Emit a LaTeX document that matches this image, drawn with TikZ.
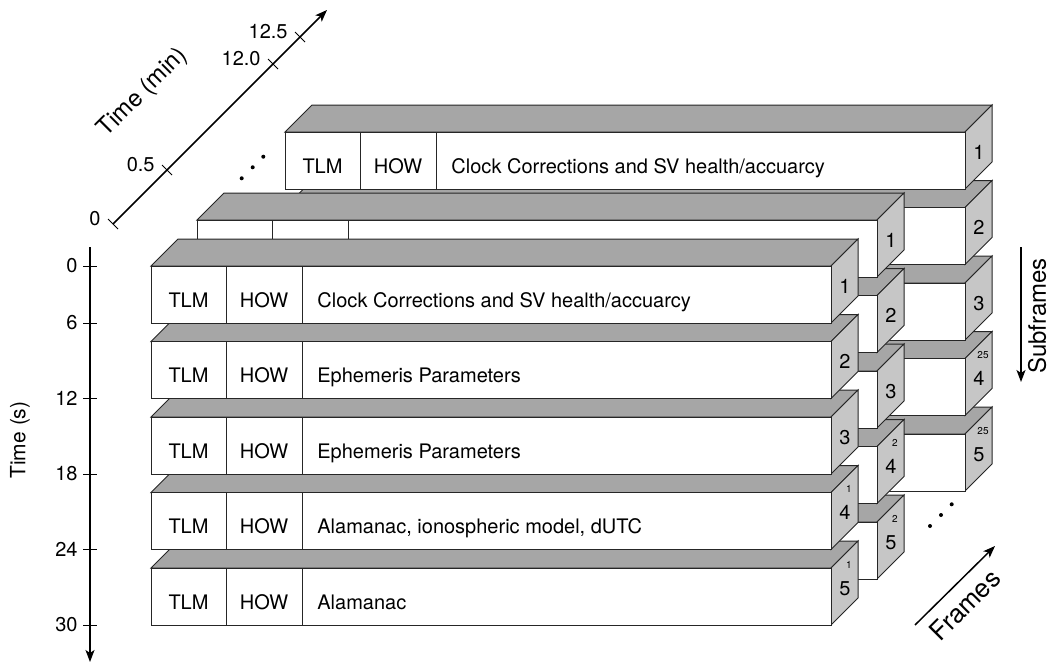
\documentclass[tikz,border=0pt]{standalone}
\usepackage{fontspec}
\setmainfont{TeX Gyre Heros}
\usetikzlibrary{arrows.meta}

\definecolor{topgrey}{RGB}{166,166,166}
\definecolor{sidegrey}{RGB}{198,198,198}

% block sizes, in picture units
\def\blkw{680}  % front face width
\def\blkh{57}   % front face height
\def\blkd{27}   % oblique depth

% \subframeblock{x}{y}{frame}{subframe} -- (x,y) = top-left of the front face
\newcommand{\subframeblock}[4]{%
  \filldraw[topface]   (#1,#2) -- ++(\blkd,-\blkd) -- ++(\blkw,0) -- ++(-\blkd,\blkd) -- cycle;
  \filldraw[sideface]  (#1+\blkw,#2) -- ++(\blkd,-\blkd) -- ++(0,\blkh) -- ++(-\blkd,\blkd) -- cycle;
  \filldraw[frontface] (#1,#2) rectangle ++(\blkw,\blkh);
  \draw[divider] (#1+75,#2) -- ++(0,\blkh) (#1+151,#2) -- ++(0,\blkh);
  \node[sfnum] (n#3-#4) at (#1+\blkw+14,#2+27) {#4};
}

% \fieldrow{name}{x}{y}{description}
\newcommand{\fieldrow}[4]{%
  \node[field] (#1-tlm) at (#2+37.5,#3+41) {TLM};
  \node[field] (#1-how) at (#2+113,#3+41) {HOW};
  \node[field, anchor=base west] (#1-txt) at (#2+166,#3+41) {#4};
}

\begin{document}
\begin{tikzpicture}[
  x=0.5pt, y=-0.5pt,
  topface/.style={fill=topgrey, draw=black!85, line width=0.5pt},
  sideface/.style={fill=sidegrey, draw=black!85, line width=0.5pt},
  frontface/.style={fill=white, draw=black!85, line width=0.5pt},
  divider/.style={draw=black!85, line width=0.5pt},
  field/.style={font=\fontsize{10}{12}\selectfont, inner sep=0pt, anchor=base},
  sfnum/.style={font=\fontsize{10}{12}\selectfont, inner sep=0pt, anchor=base},
  pgnum/.style={font=\fontsize{5}{6}\selectfont, inner sep=0pt, anchor=base},
  ticklbl/.style={font=\fontsize{10}{12}\selectfont, inner sep=0pt, anchor=east},
  axtitle/.style={font=\fontsize{#1}{14}\selectfont, inner sep=0pt},
  axis/.style={line width=0.75pt, -{Stealth[length=6pt,width=4.5pt,inset=1.5pt]}},
  tick/.style={line width=0.5pt},
]
\useasboundingbox (0,0) rectangle (1049,664);

%% ── Frames, back to front; subframes bottom to top ────────────────────────
\foreach \fx/\fy/\fr/\pg in {285/132/2/25, 197/220/1/2, 151/266/0/1}{
  \foreach \s in {5,4,...,1}{
    \pgfmathsetmacro{\sy}{\fy+(\s-1)*75.5}
    \subframeblock{\fx}{\sy}{\fr}{\s}
    \ifnum\s>3
      \node[pgnum] (p\fr-\s) at (\fx+\blkw+18,\sy) {\pg};
    \fi
  }
}

%% ── Word contents ─────────────────────────────────────────────────────────
\fieldrow{f2s1}{285}{132}{Clock Corrections and SV health/accuarcy}
\fieldrow{f0s1}{151}{266}{Clock Corrections and SV health/accuarcy}
\fieldrow{f0s2}{151}{341.5}{Ephemeris Parameters}
\fieldrow{f0s3}{151}{417}{Ephemeris Parameters}
\fieldrow{f0s4}{151}{492.5}{Alamanac, ionospheric model, dUTC}
\fieldrow{f0s5}{151}{568}{Alamanac}

% skipped frames
\fill (241.7,178.3) circle (1pt) (252.7,167.3) circle (1pt) (263.3,156.7) circle (1pt);
\fill (930,526) circle (1pt) (941,515) circle (1pt) (951.7,504.3) circle (1pt);

%% ── Time (s) axis ─────────────────────────────────────────────────────────
\coordinate (ts-top) at (90,247);
\coordinate (ts-end) at (90,662);
\draw[axis] (ts-top) -- (ts-end);
\foreach \t/\ty in {0/266, 6/323, 12/398.5, 18/474, 24/549.5, 30/625}{
  \draw[tick] (83,\ty) -- (97,\ty);
  \node[ticklbl] (ts\t) at (78,\ty) {\t};
}
\node[axtitle=10.5, rotate=90] (ts-title) at (20,440) {Time (s)};

%% ── Time (min) axis ───────────────────────────────────────────────────────
\coordinate (tm-start) at (113,224);
\coordinate (tm-end) at (327,10);
\draw[axis] (tm-start) -- (tm-end);
\foreach \t/\tx in {0/113, 0.5/167, 12.0/273, 12.5/300}{
  \draw[tick] (\tx-5,337-\tx-5) -- (\tx+5,337-\tx+5);
  \node[ticklbl] (tm\t) at (\tx-12,332-\tx) {\t};
}
\node[axtitle=12, rotate=45] (tm-title) at (143,93) {Time (min)};

%% ── Subframes / Frames directions ─────────────────────────────────────────
\coordinate (sf-top) at (1021,247);
\coordinate (sf-end) at (1021,382);
\draw[axis] (sf-top) -- (sf-end);
\node[axtitle=12, rotate=90] (sf-title) at (1037,316) {Subframes};

\coordinate (fr-start) at (915,625);
\coordinate (fr-end) at (995,546);
\draw[axis] (fr-start) -- (fr-end);
\node[axtitle=13, rotate=45] (fr-title) at (965,605) {Frames};

\end{tikzpicture}
\end{document}
